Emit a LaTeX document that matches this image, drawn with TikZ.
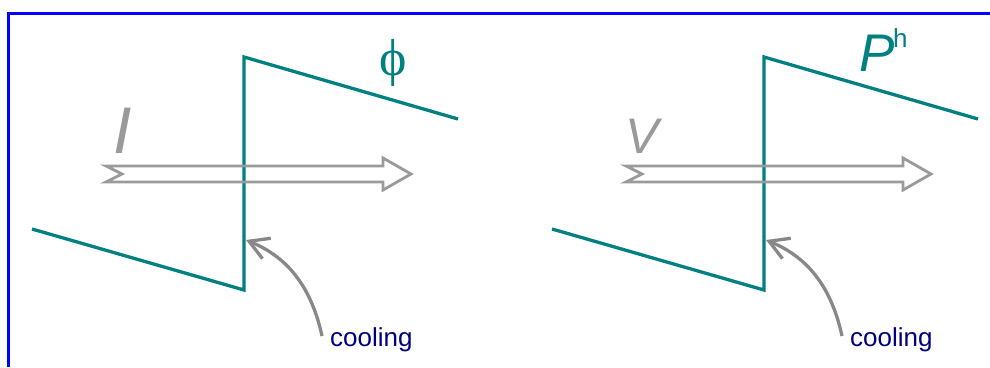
\documentclass[tikz,border=0pt]{standalone}
\usepackage{fontspec}
\setmainfont{Liberation Sans}
\newfontfamily\phifont{Liberation Serif}
\usetikzlibrary{arrows.meta}
\definecolor{tealc}{HTML}{008080}
\definecolor{navyc}{HTML}{000080}
\definecolor{grayA}{HTML}{9A9A9A}
\definecolor{grayB}{HTML}{888888}
\tikzset{
  zig/.style={draw=tealc, line width=3.3pt, line join=miter},
  fatarrow/.style={draw=grayA, line width=2.8pt, line join=miter},
  coolarrow/.style={draw=grayB, line width=3.3pt, -{Straight Barb[length=19pt,width=22pt]}},
  cooltext/.style={text=navyc, font=\fontsize{26}{30}\selectfont, anchor=base west, inner sep=0pt},
  bigvar/.style={text=grayA, inner sep=0pt, anchor=base west},
}
\begin{document}
\begin{tikzpicture}[x=1pt,y=-1pt]
\useasboundingbox (0,0) rectangle (990,367);
% frame
\draw[blue, line width=3pt] (8,367) -- (8,13) -- (990,13);

\foreach \dx/\nm in {0/L,520/R}{
  \begin{scope}[xshift=\dx]
  \coordinate (z1\nm) at (32,229);
  \coordinate (z2\nm) at (244,290);
  \coordinate (z3\nm) at (244,57);
  \coordinate (z4\nm) at (458,119);
  % fat arrow fill
  \fill[white] (106,166) -- (383,166) -- (383,158) -- (411,174) -- (383,190) -- (383,182) -- (106,182) -- (122,174) -- cycle;
  \draw[zig] (z1\nm) -- (z2\nm) -- (z3\nm) -- (z4\nm);
  \draw[fatarrow] (106,166) -- (383,166) -- (383,158) -- (411,174) -- (383,190) -- (383,182) -- (106,182) -- (122,174) -- cycle;
  \coordinate (ct\nm) at (246,240);
  \coordinate (cs\nm) at (322,336);
  \node[cooltext] (cool\nm) at (330,346) {cooling};
  \draw[coolarrow] (cs\nm) .. controls (312,290) and (290,258) .. (ct\nm);
  \end{scope}
}
\node[bigvar, font=\fontsize{66}{70}\selectfont\itshape] (I) at (113,153) {I};
\node[bigvar, font=\fontsize{50}{54}\selectfont\itshape] (V) at (625,153) {V};
\node[text=tealc, inner sep=0pt, anchor=base, font=\fontsize{52}{56}\selectfont\phifont] (phi) at (393,75) {ϕ};
\node[text=tealc, inner sep=0pt, anchor=base west, font=\fontsize{53}{56}\selectfont\itshape] (P) at (859,71) {P};
\node[text=tealc, inner sep=0pt, anchor=base west, font=\fontsize{26}{30}\selectfont] (h) at (893,47) {h};
\end{tikzpicture}
\end{document}
